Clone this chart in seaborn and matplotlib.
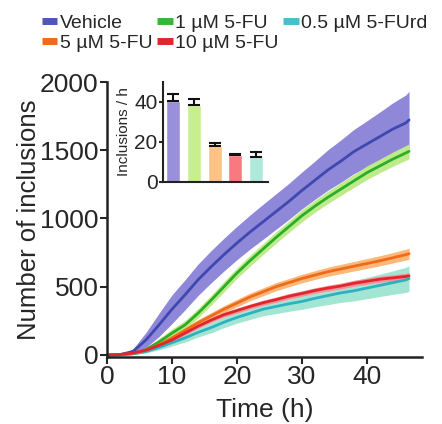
import matplotlib
matplotlib.use("Agg")
import matplotlib.pyplot as plt
import numpy as np
import pandas as pd
import seaborn as sns
from matplotlib.lines import Line2D

sns.set_style("white")
plt.rcParams['font.family'] = ['Liberation Sans', 'DejaVu Sans']

# time points (h)
time = [0, 2, 4, 6, 8, 10, 12, 14, 16, 18, 20, 22, 24, 26, 28, 30, 32, 34, 36, 38, 40, 42, 44, 46, 46.5]

# mean number of inclusions
vehicle = [0, 3, 25, 110, 220, 335, 440, 550, 645, 735, 820, 900, 975, 1050, 1125, 1205, 1280, 1355, 1420, 1490, 1545, 1600, 1655, 1700, 1722]
fu1 = [0, 2, 10, 40, 95, 160, 220, 305, 400, 500, 600, 690, 775, 860, 940, 1020, 1090, 1155, 1215, 1275, 1335, 1385, 1435, 1480, 1492]
fu5 = [0, 2, 12, 35, 75, 125, 180, 235, 285, 335, 380, 425, 462, 500, 530, 560, 585, 610, 630, 650, 670, 690, 712, 735, 742]
fu10 = [0, 3, 15, 35, 70, 110, 160, 210, 255, 295, 325, 355, 382, 405, 430, 450, 472, 490, 505, 525, 540, 555, 565, 575, 580]
furd = [0, 1, 8, 25, 55, 90, 125, 165, 200, 240, 275, 305, 335, 355, 375, 392, 415, 435, 455, 470, 490, 510, 530, 550, 560]

# band half-widths (SEM)
vehicle_sem = [0, 3, 20, 55, 85, 105, 110, 115, 118, 120, 122, 125, 128, 130, 132, 135, 140, 148, 155, 162, 170, 180, 192, 205, 210]
fu1_sem = [0, 2, 6, 15, 25, 30, 32, 34, 36, 38, 38, 40, 40, 42, 42, 44, 44, 45, 46, 48, 50, 50, 52, 54, 55]
fu5_sem = [0, 2, 5, 10, 15, 20, 22, 24, 25, 26, 27, 28, 29, 30, 30, 31, 32, 33, 34, 35, 36, 37, 38, 40, 40]
fu10_sem = [0, 2, 5, 8, 10, 12, 14, 15, 16, 17, 18, 18, 19, 19, 20, 20, 20, 21, 21, 22, 22, 22, 23, 23, 24]
furd_sem = [0, 1, 4, 10, 18, 25, 30, 34, 38, 40, 42, 45, 48, 52, 55, 58, 62, 66, 70, 74, 78, 82, 86, 92, 95]

# inset: inclusions per hour
bar_labels = ["Vehicle", "1 µM 5-FU", "5 µM 5-FU", "10 µM 5-FU", "0.5 µM 5-FUrd"]
bar_values = [40.3, 38.5, 18.0, 13.2, 12.3]
bar_errors = [3.7, 2.9, 1.4, 0.5, 2.4]

series = [
    ("Vehicle", vehicle, vehicle_sem, "#3f48b0", "#8f87d8"),
    ("1 µM 5-FU", fu1, fu1_sem, "#2aae2a", "#bfea8a"),
    ("0.5 µM 5-FUrd", furd, furd_sem, "#2fb0c0", "#a3e5d3"),
    ("5 µM 5-FU", fu5, fu5_sem, "#ef6a1a", "#fbb878"),
    ("10 µM 5-FU", fu10, fu10_sem, "#e0262b", "#f5919a"),
]
bar_colors = ["#9a8fd9", "#c7ee8f", "#fdc386", "#f87a80", "#aeeadb"]
legend_colors = {"Vehicle": "#5055b8", "1 µM 5-FU": "#36b836", "0.5 µM 5-FUrd": "#46c0c8",
                 "5 µM 5-FU": "#ef6a1c", "10 µM 5-FU": "#e0282c"}

fig = plt.figure(figsize=(4.42, 4.24), dpi=100)
ax = fig.add_axes([0.2421, 0.158, 0.7127, 0.6486])

t = np.array(time)
for name, mean, sem, lc, bc in series:
    m = np.array(mean)
    s = np.array(sem)
    ax.fill_between(t, m - s, m + s, color=bc, lw=0)
    df = pd.DataFrame({"time": t, "n": m})
    sns.lineplot(data=df, x="time", y="n", color=lc, lw=2, ax=ax)

ax.set_xlim(0, 48.5)
ax.set_ylim(-15, 2000)
ax.set_xticks([0, 10, 20, 30, 40])
ax.set_yticks([0, 500, 1000, 1500, 2000])
ax.set_xlabel("Time (h)", fontsize=19, labelpad=6)
ax.set_ylabel("Number of inclusions", fontsize=18.5, labelpad=-1)
ax.tick_params(labelsize=19, length=5, width=1.5, direction="out", pad=1,
               left=True, bottom=True)
sns.despine(ax=ax)
for sp in ["left", "bottom"]:
    ax.spines[sp].set_linewidth(1.8)
    ax.spines[sp].set_color("#222222")

# inset bar chart
ins = fig.add_axes([0.369, 0.571, 0.2376, 0.236])
bdf = pd.DataFrame({"cond": bar_labels, "rate": bar_values})
sns.barplot(data=bdf, x="cond", y="rate", hue="cond", palette=bar_colors,
            width=0.68, legend=False, ax=ins, saturation=1)
ins.errorbar(range(5), bar_values, yerr=[[0] * 5, bar_errors], fmt="none",
             ecolor="#111111", elinewidth=1.5, capsize=4, capthick=1.5)
ins.set_xlim(-0.5, 4.6)
ins.set_ylim(0, 50)
ins.set_yticks([0, 20, 40])
ins.set_xticks([])
ins.set_xlabel("")
ins.set_ylabel("Inclusions / h", fontsize=11, labelpad=2)
ins.tick_params(axis="y", labelsize=15, length=3, width=1.5, pad=1, left=True)
ins.patch.set_alpha(0)
sns.despine(ax=ins)
for sp in ["left", "bottom"]:
    ins.spines[sp].set_linewidth(1.5)
    ins.spines[sp].set_color("#222222")

# legend (column-wise fill: order chosen so rows read as in the figure)
order = ["Vehicle", "5 µM 5-FU", "1 µM 5-FU", "10 µM 5-FU", "0.5 µM 5-FUrd"]
handles = [Line2D([0], [0], color=legend_colors[k], lw=5, solid_capstyle="butt") for k in order]
fig.legend(handles, order, loc="upper left", bbox_to_anchor=(0.068, 0.993), ncol=3,
           frameon=False, fontsize=14, handlelength=0.8, handletextpad=0.12,
           columnspacing=0.25, labelspacing=0.1, borderaxespad=0.2)

fig.savefig("out.png", dpi=100)
